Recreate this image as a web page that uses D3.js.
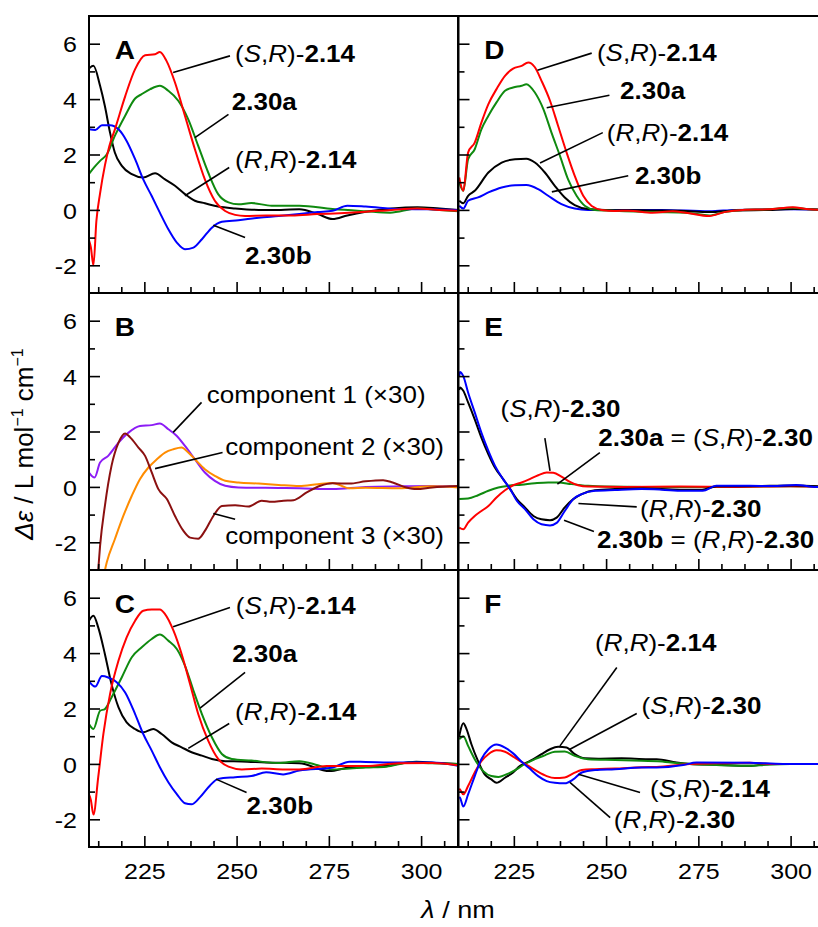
<!DOCTYPE html>
<html>
<head>
<meta charset="utf-8">
<title>CD spectra, six panels</title>
<script src="https://d3js.org/d3.v7.min.js"></script>
<style>
	body { margin:0; background:#ffffff; }
	svg { display:block; font-family:"Liberation Sans", Arial, sans-serif; }
	.frame { fill:none; stroke:#000000; stroke-width:2; }
	.trace { fill:none; stroke-width:2; stroke-linejoin:round; }
	.leader { stroke:#000000; stroke-width:1.6; }
	.axis .tick line { stroke:#000000; stroke-width:1.6; }
	.axis .domain { display:none; }
	.axis text { fill:#000000; }
</style>
</head>
<body>
<div class="chartContainer"></div>
<script>
// shared axis values
var xDomain = [210, 310];
var yDomain = [-3, 7];
var xMajor = [225, 250, 275, 300];
var xMinor = d3.range(212.5, 310, 6.25);
var yMajor = [-2, 0, 2, 4, 6];
var yMinor = [-1, 1, 3, 5];

// panel A  [wavelength nm, delta epsilon]
var aSR214 = [[210,-1.1],[210.5,-1.35],[211.2,-2.0],[212,-0.4],[213,0.6],[214.3,1.6],[215.5,2.3],[217,2.9],[219.8,4.1],[222.5,5.08],[225.2,5.58],[227.9,5.62],[229.2,5.7],[231,5.38],[233.3,4.6],[236,3.4],[238.7,2.19],[241.4,1.1],[244.1,0.33],[246.9,-0.04],[249.6,-0.18],[252.3,-0.22],[258,-0.2],[265,-0.2],[271.8,-0.15],[278,-0.12],[285,-0.07],[292,0],[299,0.05],[305,0.0],[310,-0.03]];
var aA230 = [[210,1.3],[211.5,1.55],[213,1.77],[214.8,2.0],[217,2.67],[219.8,3.4],[222.5,4.02],[224.3,4.18],[226.6,4.36],[229.2,4.48],[231.5,4.3],[234.2,3.94],[236.9,3.27],[239.6,2.31],[242.3,1.35],[245,0.57],[247.8,0.27],[250.5,0.2],[254,0.25],[259.5,0.15],[267,0.15],[276,0.03],[285,-0.05],[291.6,-0.1],[299,0.05],[305,0],[310,-0.05]];
var aRR214 = [[210,5.1],[211.2,5.2],[213,4.48],[214.3,3.75],[215.7,2.79],[217,2.07],[218.9,1.59],[221.6,1.29],[224.7,1.17],[227.9,1.32],[230.6,1.1],[233.3,0.87],[236,0.57],[238.7,0.33],[241.4,0.24],[245,0.12],[249.6,0.05],[256,0],[262,0],[267,0.02],[272,-0.15],[276,-0.33],[280,-0.2],[285,-0.07],[292,0.05],[299,0.1],[305,0.05],[310,0]];
var aB230 = [[210,2.91],[211.7,2.88],[213.5,3.06],[215.7,3.06],[218,2.91],[220.2,2.49],[222.5,1.83],[224.7,1.1],[227,0.5],[229.2,-0.1],[231.5,-0.7],[233.8,-1.18],[236,-1.42],[238.3,-1.36],[240.6,-1.06],[243.3,-0.64],[246,-0.43],[250.5,-0.37],[256,-0.28],[261.4,-0.22],[267,-0.15],[272,-0.08],[276,-0.03],[280,0.15],[285,0.12],[294,0.03],[302,0.02],[310,0]];

// panel B (components, x30)
var bComp1 = [[210,0.52],[211.5,0.34],[213,0.88],[215.2,1.12],[218,1.6],[220.7,1.96],[223.8,2.2],[227,2.23],[229.2,2.29],[231.5,2.08],[233.8,1.84],[236,1.48],[238.7,1.0],[241.4,0.52],[244.1,0.22],[246.9,0.04],[250.5,-0.02],[261.4,-0.04],[267,-0.05],[276,-0.08],[285,0],[295,0.02],[303,0.03],[310,0]];
var bComp2 = [[213,-3.9],[214.8,-2.73],[217,-1.89],[219.3,-1.05],[221.6,-0.32],[223.8,0.28],[226.1,0.7],[228.4,1.0],[230.6,1.24],[232.9,1.36],[235.1,1.42],[236.9,1.24],[238.7,1.0],[241.4,0.64],[244.1,0.4],[246.9,0.22],[250.5,0.16],[256,0.12],[261.4,0.07],[267,0.03],[272,0.1],[276,0.14],[280.6,-0.05],[285,-0.03],[294,-0.05],[303,0.02],[310,-0.02]];
var bComp3 = [[211.8,-4],[212.5,-3.0],[213,-2.13],[214.3,-0.69],[216.1,0.76],[218,1.6],[219.8,1.93],[221.2,1.78],[223.4,1.42],[225.2,1.12],[227,0.52],[228.8,-0.08],[231.1,-0.44],[233.3,-1.05],[235.6,-1.59],[237.4,-1.83],[239.6,-1.87],[241.4,-1.59],[243.7,-1.05],[246,-0.69],[249.6,-0.66],[253.2,-0.71],[256.8,-0.5],[259.5,-0.54],[262.7,-0.5],[265.4,-0.48],[269,-0.2],[272.7,0.04],[276,0.13],[280.6,0.12],[285,0.2],[289.7,0.24],[292.3,0.16],[296,-0.02],[298.7,-0.08],[303,-0.02],[310,0.03]];

// panel C
var cSR214 = [[210,-1.1],[210.5,-1.3],[211.2,-1.83],[212.5,-0.48],[213.9,1.08],[215.7,2.52],[218,3.73],[220.2,4.57],[222.5,5.17],[224.7,5.53],[227,5.57],[229.2,5.57],[230.6,5.41],[232.9,4.81],[235.1,3.97],[237.4,2.88],[239.6,1.8],[242.3,0.84],[245,0.18],[247.8,-0.1],[251.4,-0.2],[256.8,-0.17],[263,-0.2],[267,-0.2],[274.4,-0.08],[285,-0.08],[294,0.02],[303,0.03],[310,-0.05]];
var cA230 = [[210,1.44],[211.2,1.26],[213,1.92],[214.3,1.98],[216.1,2.4],[218.9,3.13],[221.6,3.85],[224.3,4.21],[227,4.51],[229.2,4.67],[231.5,4.45],[233.8,4.15],[236,3.55],[238.3,2.65],[240.6,1.8],[243.3,0.96],[246,0.36],[248.7,0.18],[254,0.12],[261.4,0.03],[267,0.1],[272,-0.05],[276,-0.2],[285,-0.13],[290.6,-0.1],[297,0.05],[303,0.02],[310,0]];
var cRR214 = [[210,5.17],[211.2,5.35],[212.5,4.93],[214.3,3.97],[216.1,2.88],[218,2.04],[220.2,1.5],[222.5,1.26],[224.7,1.14],[227.4,1.26],[229.7,1.08],[232.4,0.78],[235.1,0.6],[237.8,0.42],[240.6,0.3],[243.3,0.18],[246.9,0.1],[251.4,0.09],[258,0.05],[267,0.02],[275.2,-0.26],[280.6,-0.13],[289.7,-0.08],[298.7,0.08],[305,0.03],[310,0]];
var cB230 = [[210,2.98],[211.7,2.79],[213.5,3.17],[215.2,3.12],[217.5,2.95],[219.8,2.58],[222.5,1.8],[224.7,1.08],[227,0.48],[229.2,-0.12],[231.5,-0.66],[233.8,-1.09],[236,-1.42],[237.8,-1.46],[240.1,-1.2],[242.8,-0.78],[245,-0.54],[249.6,-0.48],[254,-0.44],[258,-0.3],[262.6,-0.38],[267,-0.24],[276,-0.13],[280.6,0.08],[285,0.07],[294,0.05],[303,0.05],[310,-0.07]];

// panel D
var dSR214 = [[210.2,1.17],[211.3,0.69],[212.6,2.07],[214.4,2.43],[216.2,3.15],[218.1,3.82],[220.3,4.36],[222.6,4.84],[224.8,5.1],[227.1,5.2],[228.9,5.32],[230.7,5.15],[232.5,4.66],[234.8,3.94],[237,3.03],[239.3,2.07],[241.5,1.23],[243.8,0.51],[246.1,0.14],[248.8,0],[252.4,-0.04],[256,-0.03],[262.6,-0.1],[268,-0.05],[271.6,-0.1],[278,-0.22],[282,-0.08],[287,0],[294,0.02],[300.6,0.1],[305,0.02],[310,0]];
var dA230 = [[210.2,1.0],[211.3,0.69],[212.6,1.83],[214.4,2.19],[216.2,2.91],[218.1,3.4],[220.3,3.88],[222.6,4.3],[224.8,4.42],[227.1,4.48],[228.4,4.54],[230.7,4.24],[233,3.64],[235.2,2.79],[237.5,1.95],[239.7,1.1],[242,0.51],[244.3,0.14],[247,0],[252,-0.03],[262.6,-0.08],[271.6,-0.1],[278,-0.2],[282,-0.08],[287,0],[294,0.02],[300.6,0.08],[305,0.02],[310,0]];
var dRR214 = [[210.2,0.33],[211.3,0.24],[212.6,0.51],[214.4,0.69],[218.1,1.35],[221.7,1.71],[225.3,1.83],[228.4,1.85],[230.7,1.71],[233.4,1.35],[236.1,0.87],[238.8,0.45],[241.5,0.17],[245.1,0.03],[250,0],[262,-0.02],[270,-0.03],[278,-0.08],[285,-0.02],[295,0],[301,0.03],[310,0]];
var dB230 = [[210.2,0.15],[211.3,0.05],[212.6,0.33],[215.3,0.45],[218.1,0.63],[221.7,0.81],[225.3,0.89],[228.4,0.9],[231.6,0.75],[234.3,0.51],[237.9,0.21],[241.5,0.05],[245.1,0],[255,0],[265,0],[278,-0.05],[285,0],[300,0.02],[310,0]];

// panel E
var eSR230 = [[210.2,-1.47],[211.3,-1.53],[212.6,-1.29],[214.4,-1.05],[216.2,-0.87],[218.1,-0.69],[220.3,-0.38],[222.6,-0.12],[224.8,0.06],[227.1,0.16],[229.3,0.28],[231.6,0.42],[233.9,0.52],[235.7,0.51],[237.9,0.37],[240.2,0.18],[242.4,0.06],[245.1,0.01],[255,0],[270,0.01],[285,0],[300,0.02],[310,0]];
var eA230 = [[210.2,-0.44],[212.6,-0.42],[215.3,-0.3],[218.1,-0.14],[220.8,-0.02],[223.5,0.04],[227.1,0.08],[230.7,0.13],[234.3,0.16],[237,0.16],[240.6,0.1],[245.1,0.04],[249.6,0.01],[260,0],[280,0],[300,0.02],[310,0]];
var eRR230 = [[210.2,3.5],[210.4,3.59],[211.3,3.47],[212.6,3.05],[214.4,2.44],[216.2,1.78],[218.1,1.18],[219.9,0.69],[222.1,0.28],[224,-0.08],[225.8,-0.44],[228,-0.74],[230.3,-1.05],[232.5,-1.17],[234.8,-1.2],[236.6,-1.11],[238.8,-0.74],[241.1,-0.44],[243.4,-0.26],[247,-0.12],[252.4,-0.08],[260,-0.06],[270,-0.1],[276,-0.1],[280,0.02],[290,0.03],[301,0.05],[310,0]];
var eB230 = [[210.2,4.0],[210.4,4.15],[211.3,4.0],[212.6,3.41],[214.4,2.69],[216.2,1.96],[218.1,1.3],[219.9,0.76],[222.1,0.28],[224,-0.08],[225.8,-0.5],[228,-0.8],[230.3,-1.17],[232.5,-1.35],[234.8,-1.39],[236.6,-1.3],[238.8,-0.87],[241.1,-0.44],[243.4,-0.26],[247,-0.14],[252.4,-0.11],[259.6,-0.08],[265,-0.1],[270.8,-0.14],[276.2,-0.14],[279.8,0.04],[288.9,0.04],[295,0.03],[301.5,0.07],[307,0],[310,0]];

// panel F (differences)
var fRR214 = [[210.2,1.0],[210.4,1.13],[211.3,1.47],[212.2,1.25],[213.5,0.71],[215.3,0.1],[217.1,-0.38],[218.9,-0.56],[220.3,-0.68],[222.6,-0.5],[224.8,-0.31],[226.6,-0.08],[228,0.02],[230.3,0.17],[232.5,0.35],[234.8,0.53],[237,0.62],[239.3,0.59],[241.5,0.35],[244.2,0.2],[247.9,0.19],[254.2,0.2],[261.4,0.17],[263.7,0.17],[269.1,0.05],[272.7,0],[280,-0.03],[288.9,-0.07],[294.3,0],[300,0],[310,0]];
var fSR230 = [[210.2,0.89],[211.3,1.0],[212.6,0.65],[214.4,0.17],[216.7,-0.26],[218.9,-0.44],[220.8,-0.47],[223.5,-0.35],[225.7,-0.2],[228,0],[230.7,0.17],[233.4,0.31],[236.1,0.44],[238.8,0.45],[241.5,0.29],[245.1,0.17],[252.4,0.14],[259.6,0.11],[264,0.1],[269.1,0.03],[272.7,0],[279.9,-0.04],[288.9,-0.07],[293.4,-0.03],[300,0],[310,0]];
var fSR214 = [[210.2,-0.9],[210.4,-0.92],[211.3,-1.1],[212.6,-0.8],[214.4,-0.31],[216.2,0.1],[218.1,0.35],[220.3,0.49],[222.6,0.44],[224.8,0.26],[227.1,0.07],[229.3,-0.1],[231.6,-0.29],[233.9,-0.44],[236.1,-0.51],[238.8,-0.49],[241.1,-0.34],[243.4,-0.22],[247,-0.19],[252.4,-0.17],[259.6,-0.12],[263.7,-0.11],[272.7,0],[279.9,0.02],[288.9,0.04],[294.3,0],[310,0]];
var fRR230 = [[210.2,-1.2],[210.4,-1.22],[211.3,-1.54],[212.6,-1.1],[214.4,-0.44],[216.2,0.17],[218.1,0.53],[220.3,0.7],[222.6,0.59],[224.8,0.38],[227.1,0.08],[229.3,-0.17],[231.6,-0.44],[233.9,-0.62],[236.1,-0.68],[238.8,-0.7],[241.1,-0.56],[243.4,-0.31],[247,-0.22],[252.4,-0.19],[259.6,-0.13],[263.7,-0.13],[270.9,-0.04],[274.5,0.05],[288.9,0.04],[297.9,0],[310,0]];

// label text: *italic*, #bold#
var tSR214 = "(*S*,*R*)-#2.14#", tRR214 = "(*R*,*R*)-#2.14#";
var tSR230 = "(*S*,*R*)-#2.30#", tRR230 = "(*R*,*R*)-#2.30#";

var RED = "#ff0000", GREEN = "#0f8a0f", BLUE = "#0000ff", BLACK = "#000000";

// panels: col/row in the grid, traces, and annotations (text anchor + leader, in data units)
var panels = [
	{ key:"A", col:0, row:0,
	  traces:[[aRR214,BLACK],[aA230,GREEN],[aB230,BLUE],[aSR214,RED]],
	  notes:[
		{ t:tSR214, at:[249.6,5.33], from:[232.8,4.96], to:[248.2,5.56] },
		{ t:"#2.30a#", at:[248.7,3.6], from:[238.7,2.61], to:[247.8,3.45] },
		{ t:tRR214, at:[249.6,1.53], from:[236,0.51], to:[248,1.53] },
		{ t:"#2.30b#", at:[252.3,-1.94], from:[243.7,-0.55], to:[252.3,-1.0] } ] },
	{ key:"B", col:0, row:1,
	  traces:[[bComp1,"#8c1cf5"],[bComp2,"#ff8c00"],[bComp3,"#8b1010"]],
	  notes:[
		{ t:"component 1 (×30)", at:[241.9,3.03], from:[232.8,1.97], to:[240.5,3.05] },
		{ t:"component 2 (×30)", at:[246.9,1.16], from:[227.9,0.66], to:[246.2,1.24] },
		{ t:"component 3 (×30)", at:[246.9,-2.07], from:[243.7,-0.96], to:[249.6,-1.17] } ] },
	{ key:"C", col:0, row:2,
	  traces:[[cRR214,BLACK],[cA230,GREEN],[cB230,BLUE],[cSR214,RED]],
	  notes:[
		{ t:tSR214, at:[249.8,5.4], from:[232.8,4.95], to:[248.2,5.65] },
		{ t:"#2.30a#", at:[248.8,3.68], from:[240.1,2.01], to:[252.3,3.3] },
		{ t:tRR214, at:[249.6,1.58], from:[236.9,0.56], to:[248,1.46] },
		{ t:"#2.30b#", at:[252.7,-1.82], from:[244.4,-0.55], to:[252.7,-1.03] } ] },
	{ key:"D", col:1, row:0,
	  traces:[[dB230,BLUE],[dRR214,BLACK],[dA230,GREEN],[dSR214,RED]],
	  notes:[
		{ t:tSR214, at:[247.5,5.38], from:[231.4,5.04], to:[246.1,5.66] },
		{ t:"#2.30a#", at:[253.8,4.0], from:[233.9,3.69], to:[250.9,4.14] },
		{ t:tRR214, at:[250.2,2.49], from:[232.1,1.69], to:[249.1,2.79] },
		{ t:"#2.30b#", at:[257.8,0.93], from:[235.3,0.65], to:[256,1.23] } ] },
	{ key:"E", col:1, row:1,
	  traces:[[eA230,GREEN],[eSR230,RED],[eRR230,BLACK],[eB230,BLUE]],
	  notes:[
		{ t:tSR230, at:[221.4,2.51], from:[233.4,1.76], to:[234.8,0.58] },
		{ t:"#2.30a# = " + tSR230, at:[247.9,1.48], from:[236.8,0.1], to:[248.3,1.24] },
		{ t:tRR230, at:[259.2,-1.1], from:[242.5,-0.6], to:[258.3,-0.72] },
		{ t:"#2.30b# = " + tRR230, at:[247.5,-2.19], from:[238.6,-1.2], to:[246.7,-1.61] } ] },
	{ key:"F", col:1, row:2,
	  traces:[[fRR214,BLACK],[fSR230,GREEN],[fSR214,RED],[fRR230,BLUE]],
	  notes:[
		{ t:tRR214, at:[247,4.06], from:[237.5,0.65], to:[252.9,3.48] },
		{ t:tSR230, at:[259.6,1.79], from:[240.2,0.53], to:[258.3,1.82] },
		{ t:tSR214, at:[261.9,-1.21], from:[242.5,-0.37], to:[259.2,-1.03] },
		{ t:tRR230, at:[252.1,-2.3], from:[240.2,-0.67], to:[251.1,-1.94] } ] }
];

// layout
var W = 818, H = 927;
var colX = [89, 458.5], rowY = [16, 293, 570];
var PW = 369, PH = 277;
var SQ = 0.9;   // text in the figure is slightly squashed vertically
var FS = 26;

var svg = d3.select(".chartContainer").append("svg")
	.attr("width", W).attr("height", H);

// writes "(*S*,*R*)-#2.14#" style strings as tspans
var richText = function(g, x, y, str, size) {
	var t = g.append("text")
		.attr("transform", "translate(" + x + "," + y + ") scale(1," + SQ + ")")
		.attr("font-size", size);
	str.split(/(\*[^*]+\*|#[^#]+#)/).filter(function(s) { return s; }).forEach(function(s) {
		var ts = t.append("tspan");
		if (s[0] == "*") ts.attr("font-style", "italic").text(s.slice(1, -1));
		else if (s[0] == "#") ts.attr("font-weight", "bold").text(s.slice(1, -1));
		else ts.text(s);
	});
	return t;
};

panels.forEach(function(p) {
	var x0 = colX[p.col], y0 = rowY[p.row];
	var x = d3.scaleLinear().domain(xDomain).range([x0, x0 + PW]);
	var y = d3.scaleLinear().domain(yDomain).range([y0 + PH, y0]);
	var g = svg.append("g").attr("class", "panel" + p.key);

	svg.append("clipPath").attr("id", "clip" + p.key)
		.append("rect").attr("x", x0).attr("y", y0).attr("width", PW).attr("height", PH);

	// traces
	var line = d3.line()
		.curve(d3.curveMonotoneX)
		.x(function(d) { return x(d[0]); })
		.y(function(d) { return y(d[1]); });
	g.append("g").attr("clip-path", "url(#clip" + p.key + ")")
		.selectAll("path").data(p.traces).enter().append("path")
		.attr("class", "trace")
		.attr("stroke", function(d) { return d[1]; })
		.attr("d", function(d) { return line(d[0]); });

	// y ticks, inward
	var yAx = g.append("g").attr("class", "axis").attr("transform", "translate(" + x0 + ",0)")
		.call(d3.axisLeft(y).tickValues(yMajor).tickSize(-11).tickPadding(12)
			.tickFormat(p.col == 0 ? function(d) { return String(d); } : function() { return ""; }));
	yAx.selectAll("text").attr("font-size", 25).attr("font-family", null)
		.attr("transform", "scale(1," + SQ + ")").attr("dy", "0.36em");
	g.append("g").attr("class", "axis").attr("transform", "translate(" + x0 + ",0)")
		.call(d3.axisLeft(y).tickValues(yMinor).tickSize(-6).tickFormat(""));

	// x ticks, inward
	var xAx = g.append("g").attr("class", "axis").attr("transform", "translate(0," + (y0 + PH) + ")")
		.call(d3.axisBottom(x).tickValues(xMajor).tickSize(-11).tickPadding(18)
			.tickFormat(p.row == 2 ? function(d) { return String(d); } : function() { return ""; }));
	xAx.selectAll("text").attr("font-size", 25).attr("font-family", null)
		.attr("transform", "scale(1," + SQ + ")");
	g.append("g").attr("class", "axis").attr("transform", "translate(0," + (y0 + PH) + ")")
		.call(d3.axisBottom(x).tickValues(xMinor.filter(function(v) { return v % 25 != 0; })).tickSize(-6).tickFormat(""));

	// frame
	g.append("rect").attr("class", "frame")
		.attr("x", x0).attr("y", y0).attr("width", PW).attr("height", PH);

	// panel letter
	richText(g, x(217), y(5.45), "#" + p.key + "#", 28);

	// annotations with leader lines
	p.notes.forEach(function(n) {
		g.append("line").attr("class", "leader")
			.attr("x1", x(n.from[0])).attr("y1", y(n.from[1]))
			.attr("x2", x(n.to[0])).attr("y2", y(n.to[1]));
		richText(g, x(n.at[0]), y(n.at[1]), n.t, FS);
	});
});

// axis titles
var xt = svg.append("text")
	.attr("transform", "translate(458,918) scale(1," + SQ + ")")
	.attr("font-size", 27).attr("text-anchor", "middle");
xt.append("tspan").attr("font-style", "italic").text("λ");
xt.append("tspan").text(" / nm");

var yt = svg.append("text")
	.attr("transform", "translate(33,444) rotate(-90)")
	.attr("font-size", 26).attr("text-anchor", "middle");
yt.append("tspan").attr("font-style", "italic").text("Δε");
yt.append("tspan").text(" / L mol");
yt.append("tspan").attr("font-size", 16).attr("dy", -10).text("−1");
yt.append("tspan").attr("dy", 10).text(" cm");
yt.append("tspan").attr("font-size", 16).attr("dy", -10).text("−1");
</script>
</body>
</html>
